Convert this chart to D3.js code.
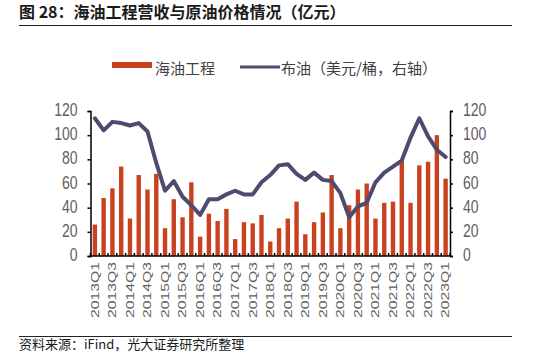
<!DOCTYPE html>
<html><head><meta charset="utf-8">
<script src="https://cdn.jsdelivr.net/npm/d3@7"></script>
<style>
body{margin:0;background:#fff;}
svg{display:block;}
</style></head>
<body>
<svg id="c" width="545" height="353"></svg>
<script>
const categories = (function(){const a=[];for(let y=2013;y<=2023;y++){for(let q=1;q<=4;q++){a.push(y+"Q"+q);}}return a.slice(0,41);})();
const revenue = [26,48,56,74,31,67,55,68,23,47,32,61,16,35,29,39,14,28,27,34,12,23,31,45,18,28,36,67,23,42,55,60,31,44,45,79,44,75,78,100,64];
const brent = [114,104,111,110,108,110,103,77,54,62,49,42,34,47,47,51,54,51,51,61,67,75,76,68,63,69,63,62,52,32,41,44,61,69,74,79,98,114,99,88,82];
const yTicks = [0,20,40,60,80,100,120];
const titleText = "图 28：海油工程营收与原油价格情况（亿元）";
const sourceText = "资料来源：iFind，光大证券研究所整理";
const legendBar = "海油工程";
const legendLine = "布油（美元/桶，右轴）";

const svg = d3.select("#c");
const barColor = "#C9421F", lineColor = "#4E4B70", textGray = "#606060";
const numFont = "'Liberation Sans', Arial, sans-serif";
const cjkFont = "'Noto Sans CJK SC', sans-serif";

const x = d3.scaleBand().domain(categories).range([90.5, 450]).paddingInner(0.5).paddingOuter(0.25);
const yL = d3.scaleLinear().domain([0,120]).range([256,111]);
const yR = d3.scaleLinear().domain([0,120]).range([256,111]);

// title + rules
svg.append("text").attr("x",19).attr("y",18).attr("font-family",cjkFont).attr("font-weight","bold")
  .attr("font-size",16).attr("fill","#1a1a1a").text(titleText);
svg.append("line").attr("x1",19).attr("x2",512).attr("y1",25.5).attr("y2",25.5).attr("stroke","#222").attr("stroke-width",1);
svg.append("line").attr("x1",19).attr("x2",512).attr("y1",336.5).attr("y2",336.5).attr("stroke","#222").attr("stroke-width",1);
svg.append("text").attr("x",19).attr("y",349).attr("font-family",cjkFont).attr("font-size",13).attr("fill","#1a1a1a").text(sourceText);

// legend
svg.append("rect").attr("x",112).attr("y",62).attr("width",40).attr("height",6).attr("fill",barColor);
svg.append("text").attr("x",155).attr("y",74).attr("font-family",cjkFont).attr("font-size",15).attr("fill","#404040").text(legendBar);
svg.append("line").attr("x1",240).attr("x2",280).attr("y1",67).attr("y2",67).attr("stroke",lineColor).attr("stroke-width",3);
svg.append("text").attr("x",281).attr("y",74).attr("font-family",cjkFont).attr("font-size",15).attr("fill","#404040").text(legendLine);

// bars
svg.append("g").selectAll("rect").data(revenue).join("rect")
  .attr("x",(d,i)=>x(categories[i])).attr("width",x.bandwidth())
  .attr("y",d=>yL(d)).attr("height",d=>yL(0)-yL(d)).attr("fill",barColor);

// line
const line = d3.line().x((d,i)=>x(categories[i])+x.bandwidth()/2).y(d=>yR(d)).curve(d3.curveLinear);
svg.append("path").datum(brent).attr("d",line).attr("fill","none").attr("stroke",lineColor)
  .attr("stroke-width",4).attr("stroke-linejoin","round").attr("stroke-linecap","round");

// side axes
const gl = svg.append("g").attr("transform","translate(90.5,0)")
  .call(d3.axisLeft(yL).tickValues(yTicks).tickSize(3).tickPadding(10));
const gr = svg.append("g").attr("transform","translate(450,0)")
  .call(d3.axisRight(yR).tickValues(yTicks).tickSize(3).tickPadding(10));
[gl,gr].forEach(g=>{
  g.select(".domain").attr("stroke","#000").attr("stroke-width",1.5);
  g.selectAll(".tick line").attr("stroke","#000").attr("stroke-width",1.5);
  g.selectAll(".tick text").attr("font-family",numFont).attr("font-size",14).attr("fill",textGray)
    .attr("transform","scale(1,1.3)").attr("dy","0.25em");
});

// bottom axis
const step = x.step();
const gb = svg.append("g");
gb.append("line").attr("x1",90.5).attr("x2",450).attr("y1",yL(0)).attr("y2",yL(0)).attr("stroke","#000").attr("stroke-width",1.5);
gb.selectAll("line.t").data(categories.concat(["end"])).join("line").attr("class","t")
  .attr("x1",(d,i)=> i<categories.length ? x(d)-step*x.paddingInner()/2 : x(categories[i-1])+x.bandwidth()+step*x.paddingInner()/2)
  .attr("x2",function(){return d3.select(this).attr("x1");})
  .attr("y1",yL(0)).attr("y2",yL(0)-3).attr("stroke","#000").attr("stroke-width",1.5);
gb.selectAll("text").data(categories.filter((d,i)=>i%2===0)).join("text")
  .attr("transform",d=>`translate(${x(d)+x.bandwidth()/2},262) rotate(-90) scale(1.5,1)`)
  .attr("text-anchor","end").attr("dy","0.36em")
  .attr("font-family",numFont).attr("font-size",10.5).attr("fill",textGray).text(d=>d);
</script>
</body></html>
